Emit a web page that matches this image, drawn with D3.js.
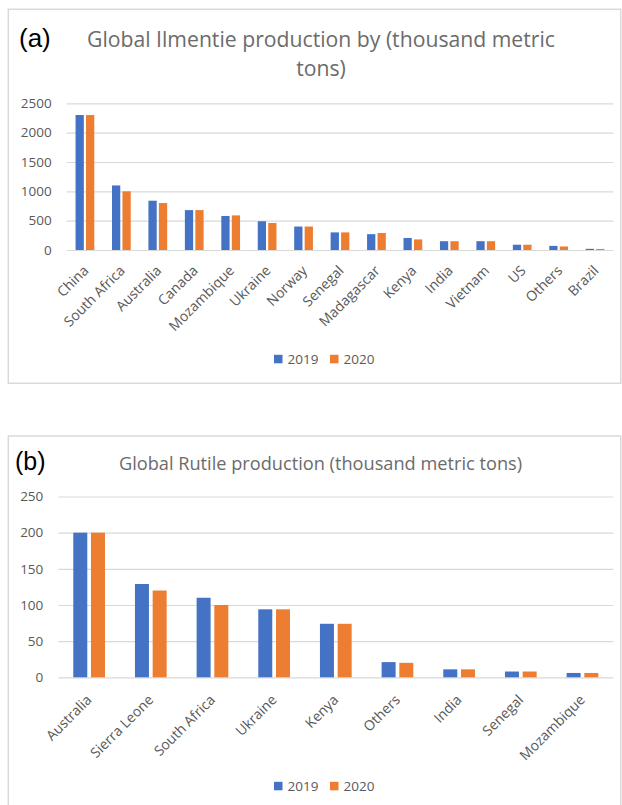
<!DOCTYPE html>
<html>
<head>
<meta charset="utf-8">
<script src="https://cdn.jsdelivr.net/npm/d3@7"></script>
<style>
  body { margin: 0; background: #fff; }
  text { font-family: "Open Sans", sans-serif; }
</style>
</head>
<body>
<div id="chart"></div>
<script>
// series shared by both panels
var seriesNames = ["2019", "2020"]
var seriesColors = ["#4472c4", "#ed7d31"]

// (a) ilmenite
var ilmCats = ["China", "South Africa", "Australia", "Canada", "Mozambique", "Ukraine", "Norway",
  "Senegal", "Madagascar", "Kenya", "India", "Vietnam", "US", "Others", "Brazil"]
var ilm2019 = [2300, 1100, 840, 680, 580, 490, 400, 300, 270, 205, 150, 150, 90, 70, 20]
var ilm2020 = [2300, 1000, 800, 680, 590, 460, 400, 300, 290, 180, 150, 150, 90, 60, 18]
var ilmTicks = [0, 500, 1000, 1500, 2000, 2500]

// (b) rutile
var rutCats = ["Australia", "Sierra Leone", "South Africa", "Ukraine", "Kenya", "Others", "India", "Senegal", "Mozambique"]
var rut2019 = [200, 129, 110, 94, 74, 21, 11, 8, 6]
var rut2020 = [200, 120, 100, 94, 74, 20, 11, 8, 6]
var rutTicks = [0, 50, 100, 150, 200, 250]

var svg = d3.select("#chart").append("svg")
  .attr("width", 622)
  .attr("height", 805)

function drawPanel(p) {
  var g = svg.append("g")

  // outer frame
  g.append("rect")
    .attr("x", p.box[0]).attr("y", p.box[1])
    .attr("width", p.box[2]).attr("height", p.box[3])
    .attr("fill", "#fff")
    .attr("stroke", "#d9d9d9")
    .attr("stroke-width", 1.5)

  // panel letter
  g.append("text")
    .attr("x", p.letterPos[0]).attr("y", p.letterPos[1])
    .style("font-family", "'Liberation Sans', Arial, sans-serif")
    .style("font-size", p.letterSize + "px")
    .attr("fill", "#000")
    .text(p.letter)

  // title lines
  p.title.forEach(function(t, i) {
    g.append("text")
      .attr("x", p.titleX).attr("y", p.titleY[i])
      .attr("text-anchor", "middle")
      .style("font-size", p.titleSize + "px")
      .attr("fill", "#6b6b6b")
      .text(t)
  })

  var x = d3.scaleBand().domain(p.cats).range([p.left, p.right]).padding(0)
  var bw = x.bandwidth()
  var x1 = d3.scaleBand().domain(seriesNames)
    .range([-0.257 * bw, 0.257 * bw]).paddingInner(0.21)

  var y = d3.scaleLinear().domain([0, p.ticks[p.ticks.length - 1]]).range([p.bottom, p.top])

  // gridlines + y labels
  var ya = g.append("g")
    .attr("transform", "translate(" + p.left + ",0)")
    .call(d3.axisLeft(y).tickValues(p.ticks).tickFormat(d3.format("d"))
      .tickSize(-(p.right - p.left)).tickPadding(15))
  ya.select(".domain").remove()
  ya.selectAll(".tick line").attr("stroke", "#d9d9d9").attr("stroke-width", 1.2)
  ya.selectAll(".tick text")
    .attr("fill", "#595959")
    .style("font-size", "13.5px")
    .style("font-family", "'Open Sans', sans-serif")

  // bars
  var rows = p.cats.map(function(c, i) {
    return { cat: c, vals: [p.v2019[i], p.v2020[i]] }
  })
  var grp = g.selectAll(".grp").data(rows).enter().append("g")
    .attr("transform", function(d) { return "translate(" + (x(d.cat) + bw / 2) + ",0)" })
  grp.selectAll("rect")
    .data(function(d) { return d.vals.map(function(v, k) { return { s: seriesNames[k], v: v, k: k } }) })
    .enter().append("rect")
      .attr("x", function(d) { return x1(d.s) })
      .attr("width", x1.bandwidth())
      .attr("y", function(d) { return y(d.v) })
      .attr("height", function(d) { return p.bottom - y(d.v) })
      .attr("fill", function(d) { return seriesColors[d.k] })

  // category labels, rotated
  g.selectAll(".cat").data(p.cats).enter().append("text")
    .attr("transform", function(d) {
      return "translate(" + (x(d) + bw / 2 + p.labelDx) + "," + (p.bottom + p.labelDy) + ") rotate(-45)"
    })
    .attr("text-anchor", "end")
    .attr("dy", "0.35em")
    .attr("fill", "#595959")
    .style("font-size", "14px")
    .text(function(d) { return d })

  // legend
  var lg = g.append("g")
  seriesNames.forEach(function(s, i) {
    var lx = p.legendX[i]
    lg.append("rect")
      .attr("x", lx).attr("y", p.legendY - 4.2)
      .attr("width", 8.5).attr("height", 8.5)
      .attr("fill", seriesColors[i])
    lg.append("text")
      .attr("x", lx + 13.5).attr("y", p.legendY)
      .attr("dy", "0.36em")
      .attr("fill", "#595959")
      .style("font-size", "13.5px")
      .text(s)
  })
}

drawPanel({
  box: [8.3, 9.3, 612.4, 374],
  letter: "(a)", letterPos: [19, 47], letterSize: 26,
  title: ["Global Ilmentie production by (thousand metric", "tons)"],
  titleX: 321, titleY: [46.5, 75.5], titleSize: 21.2,
  cats: ilmCats, v2019: ilm2019, v2020: ilm2020, ticks: ilmTicks,
  left: 66.7, right: 613.3, top: 103.3, bottom: 250,
  labelDx: 1, labelDy: 18,
  legendX: [274, 330], legendY: 359
})

drawPanel({
  box: [8.3, 436, 612.4, 380],
  letter: "(b)", letterPos: [15, 470], letterSize: 25,
  title: ["Global Rutile production (thousand metric tons)"],
  titleX: 320.5, titleY: [470], titleSize: 18.2,
  cats: rutCats, v2019: rut2019, v2020: rut2020, ticks: rutTicks,
  left: 58.3, right: 613.3, top: 496.5, bottom: 677.3,
  labelDx: 0, labelDy: 20,
  legendX: [274, 330], legendY: 786
})
</script>
</body>
</html>
